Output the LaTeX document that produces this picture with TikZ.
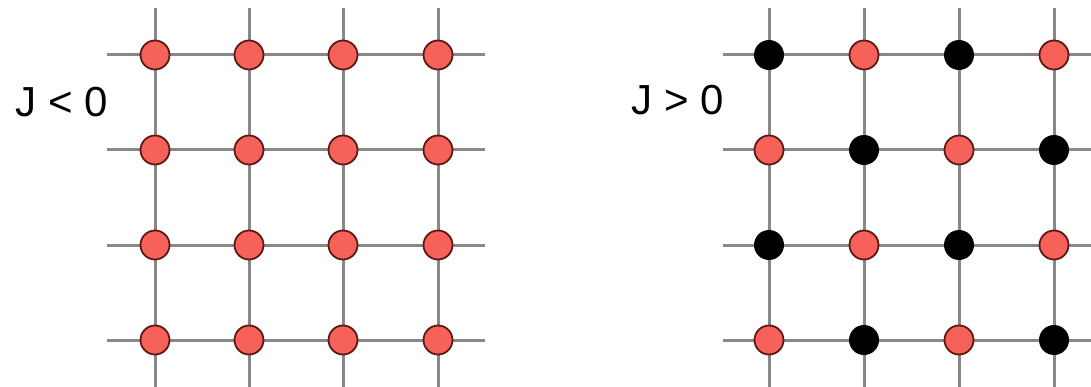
\documentclass[tikz,border=0pt]{standalone}
\usepackage{fontspec}
\setmainfont{Liberation Sans}
\definecolor{spinred}{HTML}{F6625A}
\definecolor{rim}{HTML}{5C1A16}
\definecolor{bondgray}{HTML}{888888}

\begin{document}
\begin{tikzpicture}[x=1pt, y=-1pt,
  bond/.style={draw=bondgray, line width=3pt},
  upspin/.style={circle, draw=rim, fill=spinred, line width=1.8pt,
                 minimum size=29pt, inner sep=0pt},
  downspin/.style={circle, fill=black, minimum size=30pt, inner sep=0pt},
  lbl/.style={font=\fontsize{42}{48}\selectfont, inner sep=0pt}
]
\useasboundingbox (0,0) rectangle (1091,387);
% J < 0 : all spins aligned
\foreach \x [count=\i] in {155,249,343,438} {
  \coordinate (ft\i) at (\x,8);
  \coordinate (fb\i) at (\x,390);
  \draw[bond] (ft\i) -- (fb\i);
}
\foreach \y [count=\j] in {55,150,245,340} {
  \coordinate (fl\j) at (107,\y);
  \coordinate (fr\j) at (485,\y);
  \draw[bond] (fl\j) -- (fr\j);
}
\foreach \y [count=\j] in {55,150,245,340}
  \foreach \x [count=\i] in {155,249,343,438}
    \node[upspin] (f\i\j) at (\x,\y) {};
\node[lbl] (ferro) at (62,102) {J < 0};
% J > 0 : checkerboard
\foreach \x [count=\i] in {769,864,959,1054} {
  \coordinate (at\i) at (\x,8);
  \coordinate (ab\i) at (\x,390);
  \draw[bond] (at\i) -- (ab\i);
}
\foreach \y [count=\j] in {55,150,245,340} {
  \coordinate (al\j) at (723,\y);
  \coordinate (ar\j) at (1095,\y);
  \draw[bond] (al\j) -- (ar\j);
}
\foreach \y [count=\j] in {55,150,245,340}
  \foreach \x [count=\i] in {769,864,959,1054} {
    \pgfmathtruncatemacro{\s}{mod(\i+\j,2)}
    \ifnum\s=0
      \node[downspin] (a\i\j) at (\x,\y) {};
    \else
      \node[upspin] (a\i\j) at (\x,\y) {};
    \fi
  }
\node[lbl] (anti) at (678,100) {J > 0};
\end{tikzpicture}
\end{document}
